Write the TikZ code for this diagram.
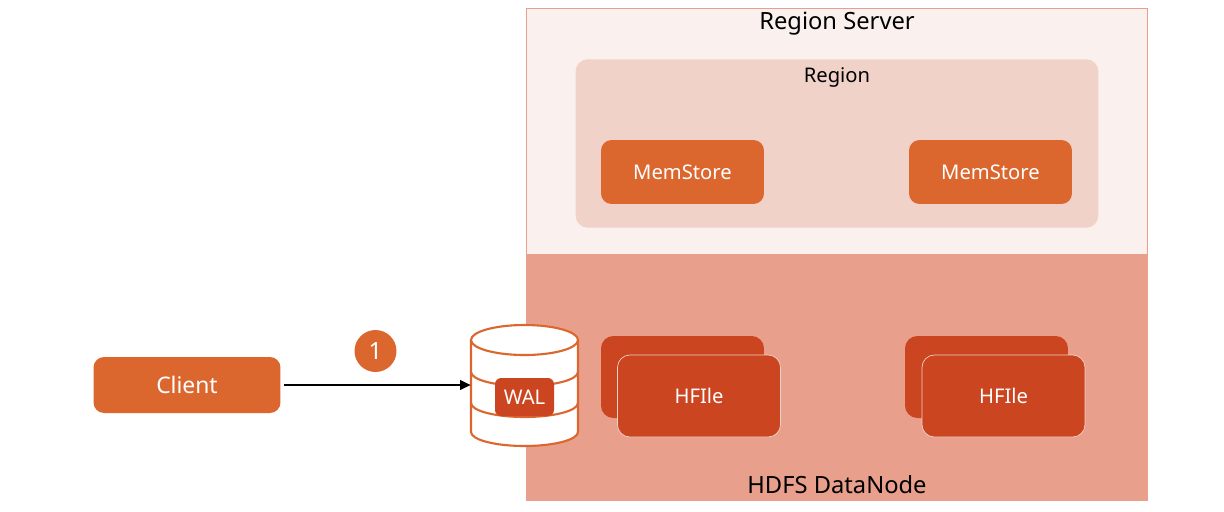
\documentclass[tikz,border=0pt]{standalone}
\usepackage{fontspec}
\setmainfont{Noto Sans}
\usetikzlibrary{arrows.meta}
\definecolor{orangebox}{HTML}{DB672F}
\definecolor{redbox}{HTML}{CB4520}
\definecolor{datanode}{HTML}{E8A08C}
\definecolor{serverbg}{HTML}{FAF1EF}
\definecolor{regionbg}{HTML}{F1D2C9}
\tikzset{
    area/.style={draw=datanode, line width=0.6pt, inner sep=0pt, minimum width=12.42cm},
    box/.style={fill=orangebox, text=white, rounded corners=6pt, inner sep=0pt, font=\fontsize{11.5}{14}\selectfont},
    hfile/.style={fill=redbox, text=white, rounded corners=7pt, inner sep=0pt, minimum width=3.26cm, minimum height=1.64cm, font=\fontsize{11.5}{14}\selectfont},
    band/.style={draw=orangebox, line width=1.2pt},
}
\begin{document}
\begin{tikzpicture}[x=0.02cm, y=-0.02cm, >={Triangle[length=6pt,width=5.5pt]}]
    \useasboundingbox (0,0) rectangle (1224,511);

    \node[area, fill=serverbg, minimum height=4.92cm] (server) at (837,131.5) {};
    \node[area, fill=datanode, minimum height=4.9cm] (hdfs) at (837,377.5) {};
    \node[fill=regionbg, rounded corners=7pt, minimum width=10.46cm, minimum height=3.37cm, inner sep=0pt] (region) at (837,143.5) {};

    \node[font=\fontsize{13.5}{16}\selectfont] (serverlabel) at (837,24) {Region Server};
    \node[font=\fontsize{11.5}{14}\selectfont] (regionlabel) at (837,77) {Region};
    \node[font=\fontsize{13.5}{16}\selectfont] (hdfslabel) at (837,485) {HDFS DataNode};

    \node[box, minimum width=3.26cm, minimum height=1.28cm] (mem1) at (682.5,172) {MemStore};
    \node[box, minimum width=3.26cm, minimum height=1.28cm] (mem2) at (990.5,172) {MemStore};

    \node[hfile] (back1) at (682.5,377) {};
    \node[hfile, draw=regionbg] (file1) at (699,396) {HFIle};
    \node[hfile] (back2) at (986.5,377) {};
    \node[hfile, draw=regionbg] (file2) at (1003.5,396) {HFIle};

    \node[box, minimum width=3.74cm, minimum height=1.12cm, font=\fontsize{13}{16}\selectfont] (client) at (187,385) {Client};

    % database drum
    \node[minimum width=2.14cm, minimum height=2.42cm, inner sep=0pt] (wal) at (524.5,385) {};
    \draw[band, fill=white] (471,340) -- (471,432) arc[start angle=180, end angle=0, x radius=53.5, y radius=14] -- (578,340);
    \draw[band, fill=white] (524.5,340) ellipse[x radius=53.5, y radius=15];
    \draw[band] (471,372) arc[start angle=180, end angle=0, x radius=53.5, y radius=14];
    \draw[band] (471,403) arc[start angle=180, end angle=0, x radius=53.5, y radius=14];
    \node[fill=redbox, text=white, rounded corners=3.5pt, minimum width=1.18cm, minimum height=0.76cm, inner sep=0pt, font=\fontsize{11.5}{14}\selectfont] (wallabel) at (524.5,397) {WAL};

    \draw[->, line width=1.1pt, shorten <=2pt] (client.east) -- (wal.west);

    \node[circle, fill=orangebox, text=white, minimum size=0.84cm, inner sep=0pt, font=\fontsize{13.5}{16}\selectfont] (one) at (375.5,351) {1};
\end{tikzpicture}
\end{document}
